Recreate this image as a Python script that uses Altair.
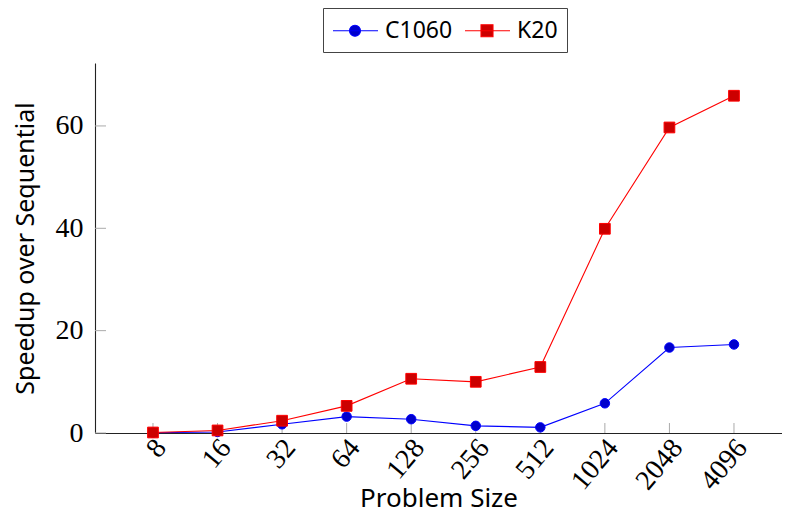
import altair as alt
import pandas as pd

# ---- data ----
sizes = ["8", "16", "32", "64", "128", "256", "512", "1024", "2048", "4096"]
c1060 = [0.05, 0.2, 1.7, 3.2, 2.7, 1.4, 1.1, 5.8, 16.7, 17.3]
k20 = [0.1, 0.5, 2.4, 5.3, 10.6, 10.0, 12.9, 39.9, 59.7, 65.9]
series_names = ["C1060", "K20"]
y_ticks = [0, 20, 40, 60]

# ---- styles ----
line_colors = ["#0000ff", "#ff0000"]
mark_fills = ["#0000cc", "#cc0000"]
W, H = 687, 370
SERIF = "Liberation Serif"
SANS = "Noto Sans"

rows = []
for name, vals in zip(series_names, [c1060, k20]):
    for n, v in zip(sizes, vals):
        rows.append({"n": n, "series": name, "grp": name, "speedup": v})
df = pd.DataFrame(rows)

x_scale = alt.Scale(type="point", domain=sizes, padding=0.821, align=0.547)
y_scale = alt.Scale(domain=[0, 72.3], nice=False, zero=True)

# legend glyphs: a line segment with the marker in its middle
# (symbol unit = 12.5 px; the glyph runs from -1 to 2.6 units, 45 px long)
C_PATH = "M-1,0H2.6M0.32,0A0.44,0.44,0,1,1,1.2,0A0.44,0.44,0,1,1,0.32,0Z"
S_PATH = "M-1,0H2.6M0.28,-0.48H1.24V0.48H0.28Z"

x_axis = alt.Axis(
    title="Problem Size", labelAngle=310, labelAlign="right", labelBaseline="middle",
    labelFont=SERIF, labelFontSize=28, labelColor="black", labelPadding=10, labelOffset=8,
    ticks=False, domainColor="#222222", domainWidth=1.1, grid=False,
    titleFont=SANS, titleFontSize=26, titleFontWeight="normal", titleColor="black",
    titleBaseline="alphabetic", titleY=73,
)
y_axis = alt.Axis(
    title="Speedup over Sequential", values=y_ticks,
    labelFont=SERIF, labelFontSize=28, labelColor="black", labelPadding=12,
    ticks=False, domainColor="#222222", domainWidth=1.1, grid=False,
    titleFont=SANS, titleFontSize=25, titleFontWeight="normal", titleColor="black",
    titlePadding=17,
)

legend = alt.Legend(
    title=None, orient="none", legendX=228, legendY=-55, direction="horizontal",
    symbolType=alt.ExprRef(expr=f"datum.value == 'C1060' ? '{C_PATH}' : '{S_PATH}'"),
    symbolFillColor=alt.ExprRef(
        expr=f"datum.value == 'C1060' ? '{mark_fills[0]}' : '{mark_fills[1]}'"
    ),
    symbolSize=625, symbolStrokeWidth=1.1, symbolOpacity=1,
    labelFont=SANS, labelFontSize=23, labelColor="black", labelOffset=26,
    columnPadding=9, padding=9, strokeColor="#444444", fillColor="white",
)

ytick_layer = alt.Chart(pd.DataFrame({"v": y_ticks})).mark_rule(
    color="#aaaaaa", strokeWidth=1
).encode(
    y=alt.Y("v:Q", scale=y_scale, axis=y_axis),
    x=alt.value(0), x2=alt.value(11),
)

xtick_layer = alt.Chart(pd.DataFrame({"n": sizes})).mark_rule(
    color="#aaaaaa", strokeWidth=1
).encode(
    x=alt.X("n:N", scale=x_scale, sort=sizes, axis=x_axis),
    y=alt.value(H - 10), y2=alt.value(H),
)

lines = alt.Chart(df).mark_line(strokeWidth=1.1).encode(
    x=alt.X("n:N", scale=x_scale, sort=sizes, axis=x_axis),
    y=alt.Y("speedup:Q", scale=y_scale, axis=y_axis),
    color=alt.Color("series:N", scale=alt.Scale(domain=series_names, range=line_colors), legend=legend),
)

# marker channels use a copy of the series field (sorted C1060, K20) so their
# hidden legends are not merged with the visible one
points = alt.Chart(df).mark_point(filled=True, opacity=1, strokeWidth=1).encode(
    x=alt.X("n:N", scale=x_scale, sort=sizes, axis=x_axis),
    y=alt.Y("speedup:Q", scale=y_scale, axis=y_axis),
    fill=alt.Fill("grp:N", scale=alt.Scale(range=mark_fills), legend=None),
    stroke=alt.Stroke("grp:N", scale=alt.Scale(range=line_colors), legend=None),
    shape=alt.Shape("grp:N", scale=alt.Scale(range=["circle", "square"]), legend=None),
    size=alt.Size("grp:N", scale=alt.Scale(range=[90, 115]), legend=None),
)

chart = alt.layer(ytick_layer, xtick_layer, lines, points).properties(
    width=W, height=H,
    autosize=alt.AutoSizeParams(type="none"),
    padding={"left": 87, "top": 55, "right": 0, "bottom": 80},
    background="white",
).configure_view(stroke=None)

chart.save("out.html", embed_options={"renderer": "svg", "actions": False})
